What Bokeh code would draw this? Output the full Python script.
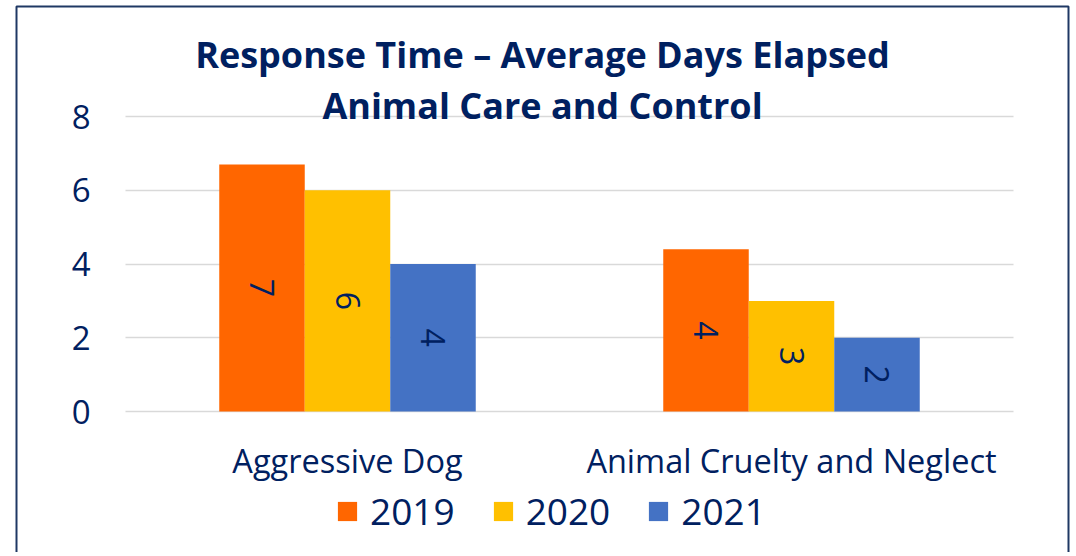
import math
from bokeh.plotting import figure
from bokeh.models import (ColumnDataSource, Range1d, Label, BoxAnnotation,
                          Legend, LegendItem, FixedTicker)
from bokeh.core.properties import value
from bokeh.embed import file_html
from bokeh.resources import INLINE

# ---- data ----
categories = ["Aggressive Dog", "Animal Cruelty and Neglect"]
years = ["2019", "2020", "2021"]
values_2019 = [6.7, 4.4]
values_2020 = [6.0, 3.0]
values_2021 = [4.0, 2.0]
y_ticks = [0, 2, 4, 6, 8]
title_lines = ["Response Time \u2013 Average Days Elapsed", "Animal Care and Control"]

# ---- styles / layout ----
NAVY = "#002060"
BORDER = "#1F3864"
COLORS = ["#FF6600", "#FFC000", "#4472C4"]
FONT = "Open Sans"
W, H = 1072, 552
# plot-area placement in canvas pixels
PX_L, PX_R, PX_B, PX_T = 125, 1013, 411, 116
n_cat = len(categories)
ymax = y_ticks[-1]
sx = (PX_R - PX_L) / n_cat          # px per category
sy = (PX_B - PX_T) / ymax           # px per unit
BAR_W = 85.5 / sx
OFFSETS = [-BAR_W, 0.0, BAR_W]

positions = [i + 0.5 for i in range(n_cat)]
series = [values_2019, values_2020, values_2021]

p = figure(width=W, height=H, output_backend="svg", toolbar_location=None,
           x_range=Range1d(-PX_L / sx, n_cat + (W - PX_R) / sx),
           y_range=Range1d(-(H - PX_B) / sy, PX_B / sy),
           min_border=0, min_border_left=0, min_border_right=0,
           min_border_top=0, min_border_bottom=0)
p.outline_line_color = None
p.background_fill_color = "white"
p.border_fill_color = "white"

renderers = []
for y, c, off, vals in zip(years, COLORS, OFFSETS, series):
    src = ColumnDataSource(dict(
        x=[pp + off for pp in positions], top=vals,
        mid=[v / 2 for v in vals], lab=[f"{v:.0f}" for v in vals]))
    r = p.vbar(x="x", top="top", width=BAR_W, source=src,
               fill_color=c, line_color=None)
    renderers.append(r)
    p.text(x="x", y="mid", text="lab", source=src,
           angle=-math.pi / 2, text_align="center", text_baseline="middle",
           text_font=value(FONT), text_font_size="32px", text_color=NAVY)

# axes (drawn at fixed locations inside the canvas)
p.yaxis.fixed_location = 0
p.xaxis.fixed_location = 0
p.yaxis.ticker = FixedTicker(ticks=y_ticks)
p.xaxis.ticker = FixedTicker(ticks=positions)
p.xaxis.major_label_overrides = {pp: c for pp, c in zip(positions, categories)}
for ax in (p.xaxis, p.yaxis):
    ax.axis_line_color = None
    ax.major_tick_line_color = None
    ax.minor_tick_line_color = None
    ax.major_tick_out = 0
    ax.major_tick_in = 0
    ax.major_label_text_font = FONT
    ax.major_label_text_color = NAVY
p.yaxis.major_label_text_font_size = "33px"
p.xaxis.major_label_text_font_size = "32.5px"
p.yaxis.major_label_standoff = 35
p.xaxis.major_label_standoff = 26
p.xgrid.grid_line_color = None
p.ygrid.ticker = FixedTicker(ticks=y_ticks)
p.ygrid.cross_bounds = (0, n_cat)
p.ygrid.grid_line_color = "#D9D9D9"
p.ygrid.grid_line_width = 1.5

# legend
legend = Legend(items=[LegendItem(label=y, renderers=[r]) for y, r in zip(years, renderers)],
                location=(335, 16), orientation="horizontal",
                glyph_width=24, glyph_height=24, label_standoff=11, spacing=36,
                padding=0, margin=0, border_line_color=None,
                background_fill_alpha=0, label_text_font=FONT,
                label_text_font_size="37px", label_text_color=NAVY)
p.add_layout(legend)

# title (two lines)
for txt, cy in zip(title_lines, [54, 105]):
    p.add_layout(Label(x=542, y=H - cy, x_units="screen", y_units="screen", text=txt,
                       text_align="center", text_baseline="middle",
                       text_font=FONT, text_font_style="bold",
                       text_font_size="36px", text_color=NAVY))

# outer border
p.add_layout(BoxAnnotation(left=16, right=1068, top=H - 6, bottom=-50,
                           left_units="screen", right_units="screen",
                           top_units="screen", bottom_units="screen",
                           fill_alpha=0, line_color=BORDER, line_alpha=1.0,
                           line_width=2))

open("out.html", "w").write(file_html(p, INLINE))
